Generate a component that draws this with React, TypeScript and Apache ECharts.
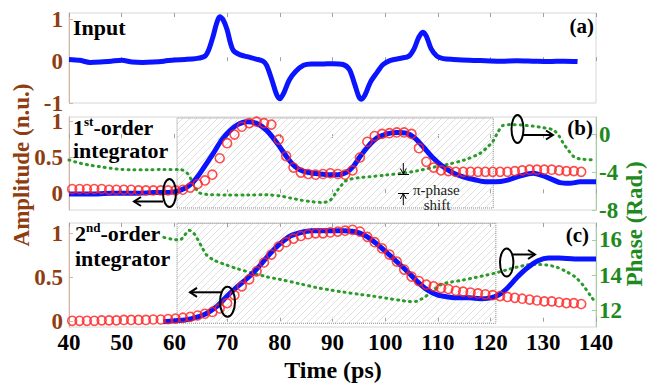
import React, { useEffect, useRef } from 'react';
import * as echarts from 'echarts';

// ---------- data ----------
const X_TICKS = [40, 50, 60, 70, 80, 90, 100, 110, 120, 130, 140];
const AMP_TICKS_A = [-1, 0, 1];
const AMP_TICKS = [0, 0.5, 1];
const PHASE_TICKS_B = [-8, -4, 0];
const PHASE_TICKS_C = [12, 14, 16];

// panel (a) input
const INPUT_T = [40, 42, 44, 46, 48, 50, 52, 54, 56, 58, 60, 62, 64, 65.8, 66.6, 67.4, 68.0, 68.6, 69.2, 70.0,
  70.6, 71.2, 72.5, 74.0, 75.5, 76.8, 77.5, 78.5, 79.4, 80.0, 80.8, 81.8, 83.0, 84.5, 86.0, 88.0, 90.0, 92.0, 93.2, 94.2,
  95.0, 95.5, 96.2, 97.2, 98.4, 99.6, 101.0, 103.0, 104.5, 105.5, 106.3, 107.1, 107.8, 108.7, 109.8, 111.0, 113.0, 116.0, 119.0, 122.0,
  125.0, 128.0, 131.0, 134.0, 136.5];
const INPUT_V = [0.04, 0.02, -0.03, -0.02, 0.0, 0.02, -0.02, -0.03, -0.02, 0.0, 0.03, 0.04, 0.06, 0.12, 0.3, 0.62, 0.9, 1.06, 1.0, 0.75,
  0.45, 0.25, 0.15, 0.1, 0.05, 0.0, -0.1, -0.45, -0.8, -0.9, -0.75, -0.45, -0.25, -0.1, -0.07, -0.07, -0.06, -0.08, -0.2, -0.55,
  -0.85, -0.91, -0.8, -0.5, -0.28, -0.08, 0.02, 0.07, 0.12, 0.3, 0.55, 0.69, 0.6, 0.3, 0.12, 0.06, 0.04, 0.02, 0.01, 0.0,
  0.01, 0.0, -0.01, 0.0, -0.01];

// red circles (measured) shared sampling times
const RED_T = [40.6, 42.0, 43.4, 44.8, 46.2, 47.6, 49.0, 50.4, 51.8, 53.2, 54.6, 56.0, 57.4, 58.8, 60.2,
  61.6, 63.0, 64.4, 65.8, 67.2, 68.6, 70.0, 71.4, 72.8, 74.2, 75.6, 77.0, 78.4, 79.8, 81.2,
  82.6, 84.0, 85.4, 86.8, 88.2, 89.6, 91.0, 92.4, 93.8, 95.2, 96.6, 98.0, 99.4, 100.8, 102.2,
  103.6, 105.0, 106.4, 107.8, 109.2, 110.6, 112.0, 113.4, 114.8, 116.2, 117.6, 119.0, 120.4, 121.8, 123.2,
  124.6, 126.0, 127.4, 128.8, 130.2, 131.6, 133.0, 134.4, 135.8, 137.2];
const RED_B = [0.06, 0.06, 0.06, 0.06, 0.06, 0.05, 0.05, 0.05, 0.05, 0.04, 0.04, 0.04, 0.04, 0.04, 0.04,
  0.05, 0.08, 0.13, 0.18, 0.26, 0.49, 0.7, 0.82, 0.93, 0.98, 1.0, 0.98, 0.96, 0.75, 0.52,
  0.36, 0.29, 0.27, 0.26, 0.27, 0.28, 0.27, 0.26, 0.32, 0.5, 0.72, 0.8, 0.83, 0.84, 0.85,
  0.85, 0.83, 0.63, 0.44, 0.36, 0.32, 0.31, 0.3, 0.3, 0.3, 0.3, 0.3, 0.3, 0.3, 0.3,
  0.31, 0.32, 0.33, 0.33, 0.33, 0.33, 0.32, 0.31, 0.31, 0.3];
const RED_C = [0.01, 0.01, 0.01, 0.01, 0.015, 0.015, 0.015, 0.02, 0.02, 0.02, 0.02, 0.025, 0.025, 0.03, 0.035,
  0.045, 0.055, 0.07, 0.09, 0.11, 0.15, 0.21, 0.3, 0.4, 0.48, 0.57, 0.67, 0.76, 0.85, 0.9,
  0.94, 0.97, 0.99, 1.0, 1.0, 1.01, 1.02, 1.03, 1.04, 1.02, 0.96, 0.9, 0.83, 0.76, 0.68,
  0.59, 0.51, 0.46, 0.42, 0.4, 0.38, 0.37, 0.35, 0.34, 0.33, 0.32, 0.31, 0.3, 0.29, 0.28,
  0.27, 0.26, 0.25, 0.24, 0.23, 0.23, 0.22, 0.21, 0.21, 0.2];

// panel (b) simulated amplitude [t, value] and phase [t, rad]
const BLUE_B = [[40, -0.01], [44, -0.01], [48, 0.0], [52, 0.0], [56, 0.01], [60, 0.02], [62, 0.07], [63.6, 0.16], [65.5, 0.35],
  [67.4, 0.56], [69, 0.75], [70.6, 0.88], [72, 0.96], [73.7, 1.0], [75.5, 0.98], [77.5, 0.88], [79.5, 0.7], [81.3, 0.51],
  [82.5, 0.4], [83.8, 0.33], [85.5, 0.29], [87.6, 0.27], [89.5, 0.26], [91, 0.26], [92.6, 0.29], [94, 0.38], [95.2, 0.51],
  [96.8, 0.66], [98.4, 0.77], [100.3, 0.83], [102.2, 0.85], [104, 0.84], [105.5, 0.78], [107.2, 0.65], [109, 0.5],
  [111, 0.37], [113, 0.28], [114.8, 0.23], [117, 0.19], [119.3, 0.16], [121, 0.16], [123, 0.18], [125.5, 0.24],
  [128.1, 0.28], [130.5, 0.23], [133.2, 0.15], [135, 0.14], [137, 0.16], [140, 0.16]];
const GREEN_B = [[40, -2.73], [42, -3.06], [44, -3.28], [46, -3.44], [48, -3.61], [50, -3.72], [52, -3.77], [55, -3.77],
  [58, -3.72], [61, -3.72], [62.5, -4.16], [63.5, -5.15], [64.6, -6.13], [66, -6.35], [70, -6.41], [74, -6.41],
  [77.5, -6.4], [80, -6.52], [82, -6.74], [84, -6.96], [86, -7.12], [88, -7.2], [89.5, -7.0], [91, -5.9], [92.6, -4.9],
  [95, -4.6], [97.1, -4.49], [100, -4.32], [103.4, -4.12], [106, -3.88], [109.7, -3.43], [112, -3.17], [115, -2.73],
  [118, -2.03], [119.5, -1.3], [120.4, -0.8], [121.3, 0.12], [122.3, 0.89], [124, 1.0], [126, 0.95], [128, 0.84],
  [130, 0.67], [131.9, 0.43], [133, -0.21], [133.8, -0.97], [134.8, -1.74], [135.8, -2.38], [137, -2.62], [140, -2.73]];

// panel (c)
const BLUE_C = [[57.9, 0.0], [60, 0.01], [62, 0.02], [64, 0.045], [66, 0.09], [68, 0.17], [70, 0.29], [72, 0.4], [74, 0.5],
  [76, 0.62], [78, 0.76], [80, 0.88], [82, 0.97], [84, 1.01], [86, 1.03], [88, 1.03], [90, 1.03], [92, 1.03], [94, 1.02],
  [96, 0.98], [98, 0.9], [100, 0.8], [102, 0.69], [104, 0.58], [106, 0.46], [108, 0.36], [110, 0.3], [112, 0.28],
  [114, 0.27], [116, 0.27], [118, 0.26], [120, 0.27], [121.5, 0.3], [123, 0.37], [125, 0.5], [127, 0.61], [129, 0.69],
  [131, 0.72], [133, 0.72], [136, 0.71], [140, 0.71]];
const GREEN_C = [[58.0, 16.15], [59.5, 16.05], [61.0, 16.0], [62.0, 16.3], [62.8, 16.55], [63.5, 16.45], [64.3, 16.1],
  [65.2, 15.6], [66.1, 15.15], [67.5, 14.85], [69.9, 14.57], [72, 14.35], [75, 14.1], [77.5, 13.9], [80, 13.75],
  [83.8, 13.5], [87, 13.28], [89.5, 13.15], [92, 13.03], [95, 12.9], [98, 12.78], [100.3, 12.67], [103, 12.55],
  [104.7, 12.48], [106, 12.5], [107, 12.65], [108.5, 12.95], [110.4, 13.43], [112.5, 13.6], [114.8, 13.71], [117, 13.85],
  [119.3, 14.0], [121, 14.12], [123, 14.29], [125, 14.45], [126.8, 14.57], [128.5, 14.6], [130.6, 14.57], [132.5, 14.45],
  [134.4, 14.19], [136, 13.9], [137.5, 13.43], [139, 12.8], [140, 12.38]];

// shaded (hatched) windows: [tStart, tEnd, ampBottom, ampTop]
const HATCH_B = [60.5, 120.5, -0.205, 1.052];
const HATCH_C = [60.5, 121, -0.018, 1.113];

// ---------- styling ----------
const SERIF = '"Liberation Serif", "Times New Roman", serif';
const BROWN = '#8f3d10';
const GREEN = '#1e8a1e';
const BLUE = '#0a14ff';
const RED = '#ff2020';
const DOTGREEN = '#2a9a2a';

const pair = (t: number[], v: number[]) => t.map((x, i) => [x, v[i]]);

function xAx(grid: number, pos: 'bottom' | 'top', labels: boolean) {
  return {
    type: 'value', gridIndex: grid, position: pos, min: X_TICKS[0], max: X_TICKS[X_TICKS.length - 1], interval: 10,
    axisLine: { show: false },
    axisTick: { show: true, inside: true, length: 4, lineStyle: { color: '#a0a0a0' } },
    axisLabel: {
      show: labels, color: '#000', fontFamily: SERIF, fontWeight: 'bold', fontSize: 23, margin: 4,
    },
    splitLine: { show: false },
  };
}

function yAx(grid: number, min: number, max: number, ticks: number[], side: 'left' | 'right', color: string, lineColor: string) {
  return {
    type: 'value', gridIndex: grid, position: side, min, max,
    axisLine: { show: true, onZero: false, lineStyle: { color: lineColor, width: 1 } },
    axisTick: { show: true, inside: true, length: 4, customValues: ticks, lineStyle: { color: lineColor } },
    axisLabel: {
      customValues: ticks, color, fontFamily: SERIF, fontWeight: 'bold', fontSize: 23, lineHeight: 15,
      margin: side === 'left' ? 6 : 3, formatter: (v: number) => String(v),
    },
    splitLine: { show: false },
  };
}

function ellipse(cx: number, cy: number, rx: number, ry: number) {
  return { type: 'ellipse', shape: { cx, cy, rx, ry }, style: { fill: 'none', stroke: '#000', lineWidth: 2 }, z: 50 };
}
function hArrow(x1: number, x2: number, y: number) {
  const d = x2 > x1 ? -7 : 7;
  return [
    { type: 'line', shape: { x1, y1: y, x2, y2: y }, style: { stroke: '#000', lineWidth: 2 }, z: 50 },
    { type: 'polyline', shape: { points: [[x2 + d, y - 4.5], [x2, y], [x2 + d, y + 4.5]] }, style: { stroke: '#000', lineWidth: 2, fill: 'none' }, z: 50 },
  ];
}
function txt(x: number, y: number, text: string, size: number, extra: any = {}) {
  return {
    type: 'text', x, y, z: 60,
    style: { text, font: `bold ${size}px ${SERIF}`, fill: '#000', align: 'left', verticalAlign: 'middle', ...extra },
  };
}
function supTxt(x: number, y: number, a: string, s: string, b: string) {
  return {
    type: 'text', x, y, z: 60,
    style: {
      text: `{n|${a}}{s|${s}}{n|${b}}`, verticalAlign: 'middle', align: 'left',
      rich: {
        n: { fontFamily: SERIF, fontWeight: 'bold', fontSize: 22, fill: '#000', lineHeight: 24 },
        s: { fontFamily: SERIF, fontWeight: 'bold', fontSize: 13, fill: '#000', verticalAlign: 'top' },
      },
    },
  };
}

export default function App() {
  const ref = useRef<HTMLDivElement>(null);
  useEffect(() => {
    if (!ref.current) return;
    const chart = echarts.init(ref.current, null, { renderer: 'svg' });

    const S = 7;
    const cv = document.createElement('canvas');
    cv.width = S; cv.height = S;
    const ctx = cv.getContext('2d');
    if (ctx) {
      ctx.strokeStyle = '#e0e0e0'; ctx.lineWidth = 1;
      ctx.beginPath(); ctx.moveTo(0, S); ctx.lineTo(S, 0); ctx.stroke();
    }
    const hatch: any = { image: cv, repeat: 'repeat', imageWidth: S, imageHeight: S };
    const areaStyle = { color: hatch, borderColor: '#8a8a8a', borderWidth: 1, borderType: 'dotted' };

    const greenLine = { color: DOTGREEN, width: 3, type: [1, 5], cap: 'round' };

    const graphics: any[] = [
      txt(73, 27, 'Input', 22),
      txt(594, 26, '(a)', 21, { align: 'right' }),
      supTxt(73, 127, '1', 'st', '-order'),
      txt(73, 150, 'integrator', 22),
      txt(593, 128, '(b)', 21, { align: 'right' }),
      supTxt(75, 233, '2', 'nd', '-order'),
      txt(75, 258, 'integrator', 22),
      txt(589, 235, '(c)', 21, { align: 'right' }),
      // axis names
      { type: 'text', x: 21, y: 165, rotation: Math.PI / 2, z: 60,
        style: { text: 'Amplitude (n.u.)', font: `bold 23px ${SERIF}`, fill: BROWN, align: 'center', verticalAlign: 'middle' } },
      { type: 'text', x: 634, y: 224, rotation: Math.PI / 2, z: 60,
        style: { text: 'Phase (Rad.)', font: `bold 23px ${SERIF}`, fill: GREEN, align: 'center', verticalAlign: 'middle' } },
      { type: 'text', x: 333, y: 370, z: 60,
        style: { text: 'Time (ps)', font: `bold 24px ${SERIF}`, fill: '#000', align: 'center', verticalAlign: 'middle' } },
      // pi phase shift annotation
      { type: 'line', shape: { x1: 403.3, y1: 163, x2: 403.3, y2: 174 }, style: { stroke: '#000', lineWidth: 1 }, z: 50 },
      { type: 'polyline', shape: { points: [[400.3, 168.5], [403.3, 174], [406.3, 168.5]] }, style: { stroke: '#000', lineWidth: 1, fill: 'none' }, z: 50 },
      { type: 'line', shape: { x1: 398, y1: 174.5, x2: 409, y2: 174.5 }, style: { stroke: '#000', lineWidth: 1 }, z: 50 },
      { type: 'line', shape: { x1: 398, y1: 193.5, x2: 409, y2: 193.5 }, style: { stroke: '#000', lineWidth: 1 }, z: 50 },
      { type: 'line', shape: { x1: 403.3, y1: 193.5, x2: 403.3, y2: 205 }, style: { stroke: '#000', lineWidth: 1 }, z: 50 },
      { type: 'polyline', shape: { points: [[400.3, 199], [403.3, 193.5], [406.3, 199]] }, style: { stroke: '#000', lineWidth: 1, fill: 'none' }, z: 50 },
      { type: 'text', x: 413, y: 190, z: 60, style: { text: 'π-phase', font: `15px ${SERIF}`, fill: '#222', align: 'left', verticalAlign: 'middle' } },
      { type: 'text', x: 437, y: 205, z: 60, style: { text: 'shift', font: `15px ${SERIF}`, fill: '#222', align: 'center', verticalAlign: 'middle' } },
      // ellipses and arrows
      ellipse(169.5, 193, 6.5, 14), ...hArrow(163, 134, 201.5),
      ellipse(517.5, 129, 6, 14), ...hArrow(523, 553, 135),
      ellipse(227.5, 301.7, 7.5, 15), ...hArrow(221, 190, 292.3),
      ellipse(506.7, 262.5, 6.7, 14), ...hArrow(513, 535, 254.5),
    ];

    const gridBase = { left: 69, right: 51, show: true, borderColor: '#d6d6d6', borderWidth: 1, backgroundColor: 'transparent' };
    const redStyle = { color: 'rgba(255,255,255,0)', borderColor: RED, borderWidth: 1.6 };

    chart.setOption({
      animation: false,
      grid: [
        { ...gridBase, top: 13, height: 90 },
        { ...gridBase, top: 117, height: 93 },
        { ...gridBase, top: 223, height: 104 },
      ],
      xAxis: [
        xAx(0, 'bottom', false), xAx(1, 'bottom', false), xAx(2, 'bottom', true),
        xAx(0, 'top', false), xAx(1, 'top', false), xAx(2, 'top', false),
      ],
      yAxis: [
        yAx(0, -1, 1.15, AMP_TICKS_A, 'left', BROWN, '#dcb29c'),
        yAx(1, -0.233, 1.066, AMP_TICKS, 'left', BROWN, '#dcb29c'),
        yAx(1, -8, 1.8, PHASE_TICKS_B, 'right', GREEN, '#9fd49f'),
        yAx(2, -0.06, 1.117, AMP_TICKS, 'left', BROWN, '#dcb29c'),
        yAx(2, 11.03, 16.97, PHASE_TICKS_C, 'right', GREEN, '#9fd49f'),
      ],
      series: [
        { type: 'line', xAxisIndex: 0, yAxisIndex: 0, data: pair(INPUT_T, INPUT_V), showSymbol: false, smooth: 0.3,
          lineStyle: { color: BLUE, width: 5 }, z: 3 },
        // (b)
        { type: 'line', xAxisIndex: 1, yAxisIndex: 1, data: [], showSymbol: false, z: 1,
          markArea: { silent: true, itemStyle: areaStyle,
            data: [[{ coord: [HATCH_B[0], HATCH_B[2]] }, { coord: [HATCH_B[1], HATCH_B[3]] }]] } },
        { type: 'line', xAxisIndex: 1, yAxisIndex: 2, data: GREEN_B, showSymbol: false, smooth: 0.3, lineStyle: greenLine, z: 2 },
        { type: 'line', xAxisIndex: 1, yAxisIndex: 1, data: BLUE_B, showSymbol: false, smooth: 0.3,
          lineStyle: { color: BLUE, width: 5 }, z: 3 },
        { type: 'scatter', xAxisIndex: 1, yAxisIndex: 1, data: pair(RED_T, RED_B), symbol: 'circle', symbolSize: 9,
          itemStyle: redStyle, z: 4 },
        // (c)
        { type: 'line', xAxisIndex: 2, yAxisIndex: 3, data: [], showSymbol: false, z: 1,
          markArea: { silent: true, itemStyle: areaStyle,
            data: [[{ coord: [HATCH_C[0], HATCH_C[2]] }, { coord: [HATCH_C[1], HATCH_C[3]] }]] } },
        { type: 'line', xAxisIndex: 2, yAxisIndex: 4, data: GREEN_C, showSymbol: false, smooth: 0.3, lineStyle: greenLine, z: 2 },
        { type: 'line', xAxisIndex: 2, yAxisIndex: 3, data: BLUE_C, showSymbol: false, smooth: 0.3,
          lineStyle: { color: BLUE, width: 5 }, z: 3 },
        { type: 'scatter', xAxisIndex: 2, yAxisIndex: 3, data: pair(RED_T, RED_C), symbol: 'circle', symbolSize: 9,
          itemStyle: redStyle, z: 4 },
      ],
      graphic: { elements: graphics },
    });
    return () => chart.dispose();
  }, []);
  return <div ref={ref} style={{ position: 'fixed', left: 0, top: 0, width: 647, height: 385, background: '#fff' }} />;
}
